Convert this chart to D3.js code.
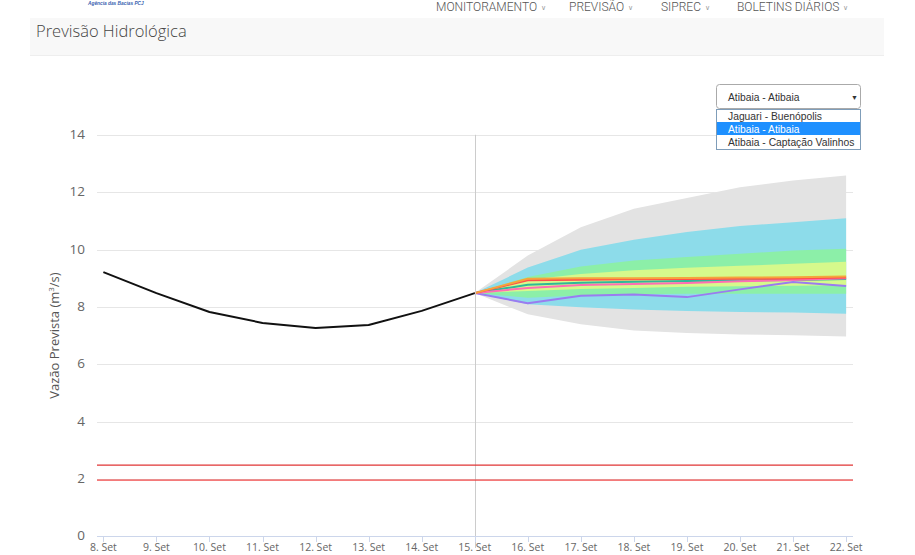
<!DOCTYPE html>
<html>
<head>
<meta charset="utf-8">
<script src="https://cdn.jsdelivr.net/npm/d3@7"></script>
<style>
  body { margin: 0; background: #fff; overflow: hidden; }
  svg { display: block; }
</style>
</head>
<body>
<svg id="chart" width="915" height="555"></svg>
<script>
// ---------- data ----------
const categories = ["8. Set","9. Set","10. Set","11. Set","12. Set","13. Set","14. Set","15. Set",
                    "16. Set","17. Set","18. Set","19. Set","20. Set","21. Set","22. Set"];
const yTicks = [0, 2, 4, 6, 8, 10, 12, 14];
const observed = [9.21, 8.48, 7.82, 7.44, 7.26, 7.37, 7.86, 8.48];
const forecastStart = 7; // index of "15. Set"
const grayLow    = [8.48, 7.74, 7.39, 7.18, 7.09, 7.04, 7.01, 6.97];
const grayHigh   = [8.48, 9.79, 10.78, 11.42, 11.80, 12.17, 12.41, 12.58];
const cyanLow    = [8.48, 8.09, 7.99, 7.91, 7.86, 7.82, 7.80, 7.76];
const cyanHigh   = [8.48, 9.37, 9.99, 10.34, 10.61, 10.82, 10.95, 11.09];
const greenLow   = [8.48, 8.32, 8.40, 8.44, 8.46, 8.46, 8.46, 8.46];
const greenHigh  = [8.48, 9.04, 9.41, 9.62, 9.74, 9.85, 9.97, 10.03];
const yellowLow  = [8.48, 8.55, 8.62, 8.66, 8.70, 8.72, 8.74, 8.75];
const yellowHigh = [8.48, 8.95, 9.15, 9.28, 9.36, 9.43, 9.50, 9.57];
const orangeLine = [8.48, 8.98, 9.00, 9.00, 9.01, 9.02, 9.03, 9.06];
const redLine    = [8.48, 8.93, 8.95, 8.96, 8.97, 8.98, 8.99, 9.02];
const tealLine   = [8.48, 8.77, 8.84, 8.88, 8.90, 8.92, 8.94, 8.97];
const pinkLine   = [8.48, 8.66, 8.76, 8.80, 8.83, 8.89, 8.94, 9.00];
const purpleLine = [8.48, 8.13, 8.39, 8.43, 8.34, 8.61, 8.87, 8.73];
const alertLevel = 2.48;
const emergencyLevel = 1.96;
const stations = ["Jaguari - Buenópolis", "Atibaia - Atibaia", "Atibaia - Captação Valinhos"];
const selectedStation = 1;
const navItems = ["MONITORAMENTO", "PREVISÃO", "SIPREC", "BOLETINS DIÁRIOS"];

// ---------- layout ----------
const svg = d3.select("#chart");
const plot = { left: 97, right: 853, top: 134.8, bottom: 536.3 };

const x = d3.scaleLinear().domain([-0.12, categories.length - 1 + 0.13]).range([plot.left, plot.right]);
const y = d3.scaleLinear().domain([0, 14]).range([plot.bottom, plot.top]);

// ---------- page header ----------
svg.append("text").attr("x", 88).attr("y", 5).attr("font-family", "Liberation Sans, Arial")
  .attr("font-size", 4.8).attr("font-weight", "bold").attr("font-style", "italic").attr("fill", "#3a5fb0").text("Agência das Bacias PCJ");

const navX = [436, 569, 661, 737];
navItems.forEach((t, i) => {
  const tx = svg.append("text").attr("x", navX[i]).attr("y", 11)
    .attr("font-family", "Roboto, sans-serif").attr("font-weight", 300).attr("font-size", 12).attr("fill", "#555");
  tx.append("tspan").text(t);
  tx.append("tspan").attr("dx", 4).attr("dy", -1).attr("font-size", 7).attr("fill", "#999").text("∨");
});

svg.append("rect").attr("x", 30).attr("y", 18).attr("width", 854).attr("height", 37).attr("fill", "#f8f8f8");
svg.append("line").attr("x1", 30).attr("x2", 884).attr("y1", 55.5).attr("y2", 55.5).attr("stroke", "#eeeeee");
svg.append("text").attr("x", 36).attr("y", 37).attr("font-family", "'Open Sans', sans-serif")
  .attr("font-size", 16.5).attr("font-weight", 300).attr("fill", "#444").text("Previsão Hidrológica");

// ---------- grid ----------
const g = svg.append("g");
g.selectAll("line.grid").data(yTicks.filter(d => d > 0)).join("line")
  .attr("x1", plot.left).attr("x2", plot.right)
  .attr("y1", d => Math.round(y(d)) + 0.5).attr("y2", d => Math.round(y(d)) + 0.5)
  .attr("stroke", "#e6e6e6").attr("stroke-width", 1);

// y labels
g.selectAll("text.ylab").data(yTicks).join("text")
  .attr("x", 85).attr("y", d => y(d) + 4)
  .attr("text-anchor", "end").attr("font-family", "'Open Sans', sans-serif").attr("font-size", 13.5)
  .attr("fill", "#666").text(d => d);

// y title
svg.append("text").attr("transform", `translate(59,${(plot.top + plot.bottom) / 2}) rotate(-90)`)
  .attr("text-anchor", "middle").attr("font-family", "'Open Sans', sans-serif").attr("font-size", 13)
  .attr("fill", "#555").html("Vazão Prevista (m<tspan dy='-5' font-size='8'>3</tspan><tspan dy='5'>/s)</tspan>");

// ---------- forecast bands ----------
const fIdx = grayLow.map((_, i) => forecastStart + i);
function band(low, high, color) {
  const area = d3.area().x((d, i) => x(fIdx[i])).y0((d, i) => y(low[i])).y1((d, i) => y(high[i]));
  g.append("path").datum(low).attr("d", area).attr("fill", color);
}
band(grayLow, grayHigh, "#e3e3e3");
band(cyanLow, cyanHigh, "#8ddcea");
band(greenLow, greenHigh, "#8cefa8");
band(yellowLow, yellowHigh, "#d6f98c");

// vertical "today" line
svg.append("line").attr("x1", Math.round(x(forecastStart)) + 0.5).attr("x2", Math.round(x(forecastStart)) + 0.5)
  .attr("y1", plot.top).attr("y2", 548).attr("stroke", "#cccccc").attr("stroke-width", 1);

// threshold lines
svg.append("line").attr("x1", plot.left).attr("x2", plot.right).attr("y1", y(alertLevel)).attr("y2", y(alertLevel))
  .attr("stroke", "#e03535").attr("stroke-width", 1.2);
svg.append("line").attr("x1", plot.left).attr("x2", plot.right).attr("y1", y(emergencyLevel)).attr("y2", y(emergencyLevel))
  .attr("stroke", "#ee3333").attr("stroke-opacity", 0.65).attr("stroke-width", 1.8);

// forecast lines
function fline(vals, color) {
  const line = d3.line().x((d, i) => x(fIdx[i])).y(d => y(d));
  g.append("path").datum(vals).attr("d", line).attr("fill", "none").attr("stroke", color)
    .attr("stroke-width", 2).attr("stroke-linejoin", "round");
}
fline(purpleLine, "#9a7cf0");
fline(tealLine, "#2fb897");
fline(pinkLine, "#ff6eb4");
fline(redLine, "#ff4d4d");
fline(orangeLine, "#f5a33c");

// observed line
const obsLine = d3.line().x((d, i) => x(i)).y(d => y(d));
g.append("path").datum(observed).attr("d", obsLine).attr("fill", "none").attr("stroke", "#111")
  .attr("stroke-width", 2).attr("stroke-linejoin", "round");

// ---------- x axis ----------
svg.append("line").attr("x1", plot.left).attr("x2", plot.right).attr("y1", Math.round(plot.bottom) + 0.5)
  .attr("y2", Math.round(plot.bottom) + 0.5).attr("stroke", "#ccd6eb");
svg.selectAll("line.xtick").data(categories).join("line")
  .attr("x1", (d, i) => Math.round(x(i)) + 0.5).attr("x2", (d, i) => Math.round(x(i)) + 0.5)
  .attr("y1", Math.round(plot.bottom)).attr("y2", Math.round(plot.bottom) + 6).attr("stroke", "#ccd6eb");
svg.selectAll("text.xlab").data(categories).join("text")
  .attr("x", (d, i) => x(i)).attr("y", 551).attr("text-anchor", "middle")
  .attr("font-family", "'Open Sans', sans-serif").attr("font-size", 10.5).attr("fill", "#666").text(d => d);

// ---------- dropdown ----------
const dd = svg.append("g").attr("font-family", "'Liberation Sans', Arial, sans-serif");
dd.append("rect").attr("x", 716.5).attr("y", 84.5).attr("width", 144).attr("height", 24).attr("rx", 3)
  .attr("fill", "#fff").attr("stroke", "#aaa");
dd.append("text").attr("x", 728).attr("y", 100.5).attr("font-size", 10.3).attr("fill", "#333").text(stations[selectedStation]);
dd.append("text").attr("x", 851).attr("y", 99.5).attr("font-size", 7).attr("fill", "#333").text("▼");
dd.append("rect").attr("x", 716.5).attr("y", 109.5).attr("width", 144).attr("height", 40)
  .attr("fill", "#fff").attr("stroke", "#7f9db9");
stations.forEach((s, i) => {
  if (i === selectedStation) {
    dd.append("rect").attr("x", 717).attr("y", 122).attr("width", 143).attr("height", 13).attr("fill", "#1e90ff");
  }
  dd.append("text").attr("x", 728).attr("y", 119.5 + i * 13).attr("font-size", 10.3)
    .attr("fill", i === selectedStation ? "#fff" : "#333").text(s);
});
</script>
</body>
</html>
